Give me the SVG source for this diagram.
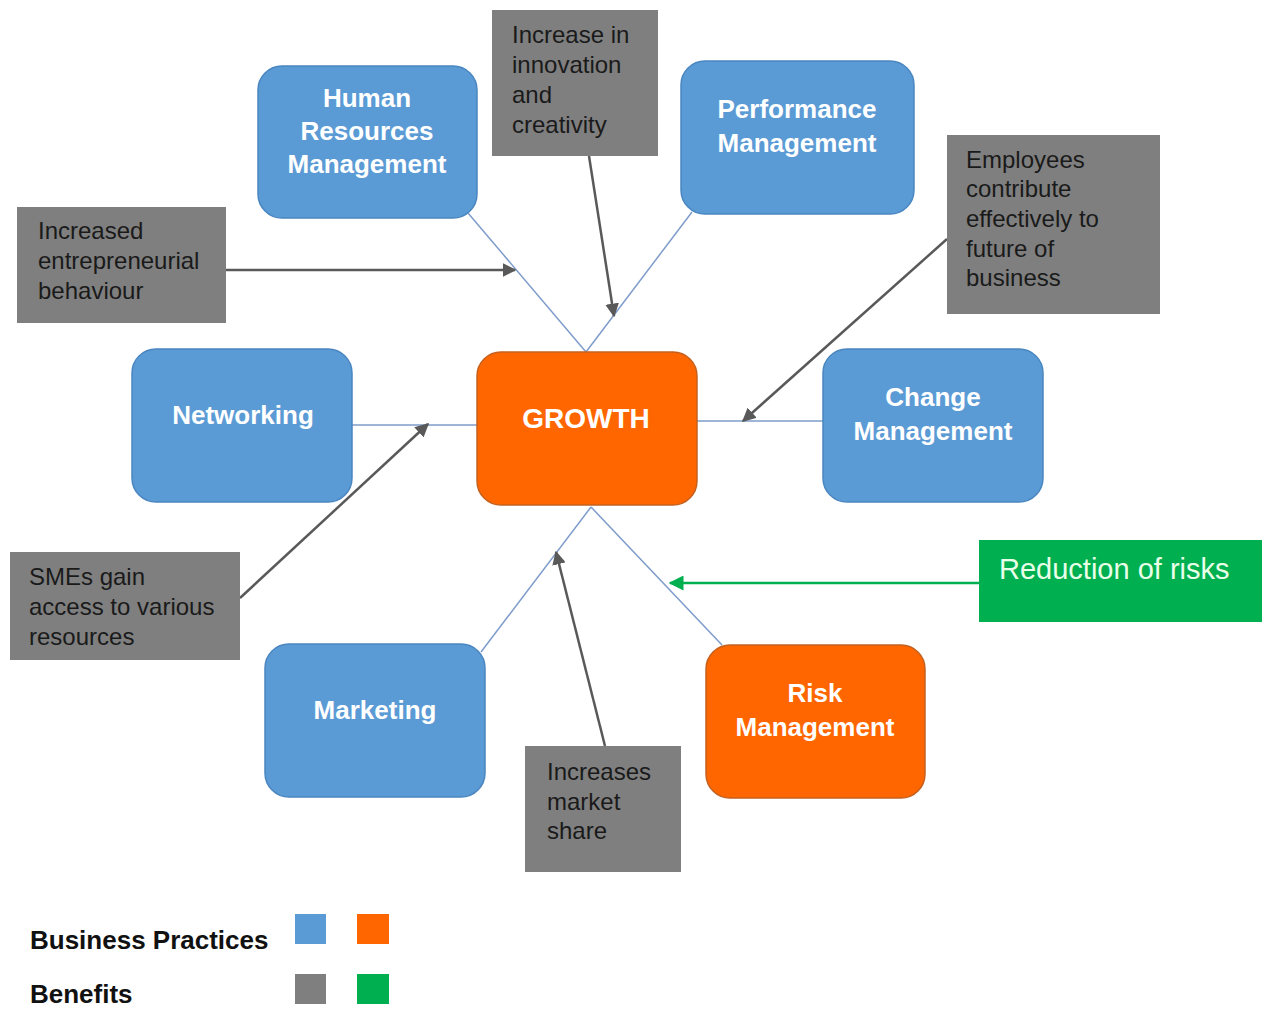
<svg xmlns="http://www.w3.org/2000/svg" width="1264" height="1025" viewBox="0 0 1264 1025">
<defs>
<style>
.bp{fill:#5B9BD5;stroke:#4A86C0;stroke-width:1.5}
.or{fill:#FF6600;stroke:#C4611F;stroke-width:1.5}
.bn{fill:#7F7F7F}
.gr{fill:#00B050}
.nt{font-family:"Liberation Sans",Arial,sans-serif;font-weight:bold;font-size:26px;fill:#FFFFFF;text-anchor:middle}
.bt{font-family:"Liberation Sans",Arial,sans-serif;font-size:24px;fill:#1A1A1A}
.lg{font-family:"Liberation Sans",Arial,sans-serif;font-weight:bold;font-size:26px;fill:#111111}
.ln{stroke:#7E9CCB;stroke-width:1.5;fill:none}
.ar{stroke:#595959;stroke-width:2.5;fill:none;marker-end:url(#ga)}
.ag{stroke:#00B050;stroke-width:2.5;fill:none;marker-end:url(#gg)}
</style>
<marker id="ga" viewBox="0 0 10 10" refX="9" refY="5" markerWidth="5.5" markerHeight="5.5" orient="auto" markerUnits="strokeWidth"><path d="M0,0 L10,5 L0,10 z" fill="#595959"/></marker>
<marker id="gg" viewBox="0 0 10 10" refX="9" refY="5" markerWidth="6" markerHeight="6" orient="auto" markerUnits="strokeWidth"><path d="M0,0 L10,5 L0,10 z" fill="#00B050"/></marker>
</defs>
<rect width="1264" height="1025" fill="#FFFFFF"/>
<g id="connectors">
<line class="ln" x1="468" y1="213" x2="586" y2="352"/>
<line class="ln" x1="692" y1="212" x2="586" y2="352"/>
<line class="ln" x1="352" y1="425" x2="477" y2="425"/>
<line class="ln" x1="823" y1="421" x2="697" y2="421"/>
<line class="ln" x1="591" y1="507" x2="481" y2="652"/>
<line class="ln" x1="591" y1="507" x2="722" y2="645"/>
<line class="ar" x1="226" y1="270" x2="515" y2="270"/>
<line class="ar" x1="589" y1="156" x2="614" y2="316"/>
<line class="ar" x1="947" y1="239" x2="743" y2="421"/>
<line class="ar" x1="240" y1="598" x2="428" y2="424"/>
<line class="ar" x1="605" y1="746" x2="556" y2="552"/>
<line class="ag" x1="979" y1="583" x2="670" y2="583"/>
</g>
<g id="hrm"><rect class="bp" x="258" y="66" width="219" height="152" rx="24"/>
<text class="nt" x="367" y="107">Human</text><text class="nt" x="367" y="140">Resources</text><text class="nt" x="367" y="173">Management</text></g>
<g id="perf"><rect class="bp" x="681" y="61" width="233" height="153" rx="24"/>
<text class="nt" x="797" y="118">Performance</text><text class="nt" x="797" y="152">Management</text></g>
<g id="networking"><rect class="bp" x="132" y="349" width="220" height="153" rx="24"/>
<text class="nt" x="243" y="424">Networking</text></g>
<g id="growth"><rect class="or" x="477" y="352" width="220" height="153" rx="24"/>
<text class="nt" x="586" y="428" style="font-size:28px">GROWTH</text></g>
<g id="change"><rect class="bp" x="823" y="349" width="220" height="153" rx="24"/>
<text class="nt" x="933" y="406">Change</text><text class="nt" x="933" y="440">Management</text></g>
<g id="marketing"><rect class="bp" x="265" y="644" width="220" height="153" rx="24"/>
<text class="nt" x="375" y="719">Marketing</text></g>
<g id="risk"><rect class="or" x="706" y="645" width="219" height="153" rx="24"/>
<text class="nt" x="815" y="702">Risk</text><text class="nt" x="815" y="736">Management</text></g>
<g id="innovation"><rect class="bn" x="492" y="10" width="166" height="146"/>
<text class="bt" x="512" y="43">Increase in</text><text class="bt" x="512" y="73">innovation</text><text class="bt" x="512" y="103">and</text><text class="bt" x="512" y="133">creativity</text></g>
<g id="entrepreneurial"><rect class="bn" x="17" y="207" width="209" height="116"/>
<text class="bt" x="38" y="239">Increased</text><text class="bt" x="38" y="269">entrepreneurial</text><text class="bt" x="38" y="299">behaviour</text></g>
<g id="employees"><rect class="bn" x="947" y="135" width="213" height="179"/>
<text class="bt" x="966" y="168">Employees</text><text class="bt" x="966" y="197">contribute</text><text class="bt" x="966" y="227">effectively to</text><text class="bt" x="966" y="257">future of</text><text class="bt" x="966" y="286">business</text></g>
<g id="smes"><rect class="bn" x="10" y="552" width="230" height="108"/>
<text class="bt" x="29" y="585">SMEs gain</text><text class="bt" x="29" y="615">access to various</text><text class="bt" x="29" y="645">resources</text></g>
<g id="market"><rect class="bn" x="525" y="746" width="156" height="126"/>
<text class="bt" x="547" y="780">Increases</text><text class="bt" x="547" y="810">market</text><text class="bt" x="547" y="839">share</text></g>
<g id="risks-benefit"><rect class="gr" x="979" y="540" width="283" height="82"/>
<text x="999" y="579" style="font-family:'Liberation Sans',Arial,sans-serif;font-size:29px;fill:#E8FFE8">Reduction of risks</text></g>
<g id="legend">
<text class="lg" x="30" y="949">Business Practices</text>
<text class="lg" x="30" y="1003">Benefits</text>
<rect x="295" y="914" width="31" height="30" fill="#5B9BD5"/>
<rect x="357" y="914" width="32" height="30" fill="#FF6600"/>
<rect x="295" y="974" width="31" height="30" fill="#7F7F7F"/>
<rect x="357" y="974" width="32" height="30" fill="#00B050"/>
</g>
</svg>
